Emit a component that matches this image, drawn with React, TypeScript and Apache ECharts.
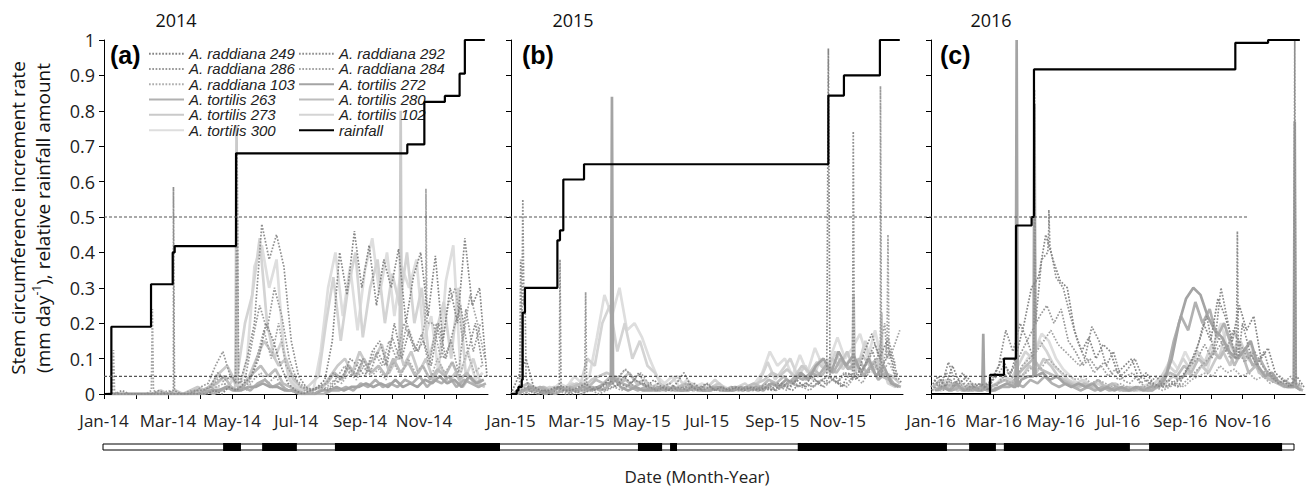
import React, { useEffect, useRef } from 'react';
import * as echarts from 'echarts';

// ---------- labels ----------
const years = ['2014', '2015', '2016'];
const yearShort = ['14', '15', '16'];
const panelLetters = ['(a)', '(b)', '(c)'];
const monthNames = ['Jan', 'Feb', 'Mar', 'Apr', 'May', 'Jun', 'Jul', 'Aug', 'Sep', 'Oct', 'Nov', 'Dec'];
const legendCol1 = ['A. raddiana 249', 'A. raddiana 286', 'A. raddiana 103', 'A. tortilis 263', 'A. tortilis 273', 'A. tortilis 300'];
const legendCol2 = ['A. raddiana 292', 'A. raddiana 284', 'A. tortilis 272', 'A. tortilis 280', 'A. tortilis 102', 'rainfall'];
const thresholds = [0.5, 0.05];

// ---------- weekly values (day = offset + 7*i) ----------
// 2014
const r249_2014 = [0,0,0,0,0,0,0,0,0,0, 0,0,0,0,0,.01,0,.02,.01,.03, .05,.1,.2,.15,.08,.03,.01,0,.01,.02, .04,.15,.4,.28,.46,.3,.42,.25,.38,.3, .41,.2,.33,.4,.22,.39,.15,.3,.2,.44, .25,.3,.05];
const r292_2014 = [0,0,.01,0,0,0,0,.01,0,.01, 0,0,.01,.01,.02,.06,.04,.05,.03,.1, .2,.48,.38,.45,.36,.15,.05,.02,.01,.02, .01,.03,.05,.1,.08,.05,.12,.15,.08,.2, .1,.18,.12,.15,.08,.2,.1,.18,.25,.12, .2,.08,.03];
const r286_2014 = [0,0,0,0,0,0,0,0,0,0, 0,0,0,.02,.03,.08,.12,.05,.03,.04, .15,.25,.18,.3,.22,.1,.04,.02,.01,.02, .03,.06,.04,.08,.05,.1,.06,.12,.08,.16, .1,.2,.12,.17,.08,.2,.1,.15,.06,.24, .12,.2,.04];
const r284_2014 = [0,0,0,0,0,0,.01,0,.01,0, 0,.01,0,.01,.02,.05,.02,.01,.02,.03, .1,.18,.1,.2,.08,.05,.02,.01,0,.01, .02,.05,.08,.05,.1,.06,.12,.08,.15,.1, .2,.15,.12,.3,.2,.1,.25,.3,.15,.28, .2,.1,.03];
const r103_2014 = [0,0,0,0,0,0,0,0,0,0, 0,0,.01,0,.01,.02,.03,.01,.02,.01, .04,.06,.03,.05,.02,.01,0,.01,0,.01, .02,.04,.03,.06,.04,.08,.05,.07,.04,.09, .05,.1,.06,.08,.04,.1,.06,.09,.05,.12, .06,.08,.02];
const t272_2014 = [0,0,0,0,0,0,0,0,0,0, 0,0,0,0,.01,.01,.02,.01,.01,.02, .02,.03,.02,.02,.01,.01,0,0,0,.01, .01,.02,.01,.02,.02,.03,.02,.03,.02,.04, .02,.03,.02,.04,.03,.05,.03,.04,.02,.05, .03,.04,.01];
const t263_2014 = [0,0,0,0,0,0,0,0,0,0, 0,0,0,.01,0,.01,.02,.01,.02,.01, .03,.04,.02,.03,.01,.01,0,0,0,0, .01,.01,.02,.01,.03,.02,.04,.02,.03,.02, .04,.03,.05,.02,.04,.03,.05,.02,.04,.03, .02,.03,.01];
const t280_2014 = [0,0,0,0,0,0,0,0,0,0, 0,0,.01,.01,.02,.03,.05,.02,.01,.03, .06,.08,.05,.07,.03,.02,.01,0,.01,.02, .03,.06,.04,.08,.05,.1,.06,.08,.05,.1, .06,.09,.05,.08,.04,.07,.05,.09,.04,.06, .03,.04,.01];
const t273_2014 = [0,0,0,0,0,0,0,.01,0,.01, 0,.01,.02,.01,.03,.06,.08,.04,.02,.05, .1,.15,.12,.08,.1,.04,.02,.01,0,.02, .05,.08,.1,.06,.12,.08,.1,.14,.06,.1, .08,.12,.06,.1,.04,.08,.03,.06,.02,.05, .03,.02,.01];
const t102_2014 = [0,0,0,0,0,0,0,0,0,0, 0,0,0,0,.01,.02,.01,.03,.06,.2, .28,.44,.2,.1,.15,.04,.02,.01,.03,.05, .2,.33,.15,.3,.4,.16,.3,.38,.2,.34, .25,.4,.2,.3,.1,.18,.26,.1,.3,.05, .1,.03,.01];
const t300_2014 = [0,0,0,0,0,0,0,0,0,0, 0,0,0,.01,.02,.03,.05,.04,.02,.1, .36,.42,.3,.38,.12,.03,.01,.02,.01,.12, .3,.4,.22,.36,.18,.35,.44,.28,.4,.22, .36,.3,.38,.15,.22,.06,.32,.42,.06,.12, .04,.06,.02];
// 2015
const r249_2015 = [0,.05,.1,.02,.01,.01,.02,.01,.01,.02, .03,.01,.02,.04,.02,.05,.03,.06,.02,.04, .02,.01,.03,.06,.02,.01,.03,.01,.02,.01, .02,.01,.02,.01,.02,.01,.03,.02,.04,.02, .05,.03,.05,.04,.02,.06,.04,.12,.17,.1, .15,.06,.03];
const r292_2015 = [0,.02,.01,0,.01,0,.01,.02,.01,0, .01,.02,.01,.02,.03,.02,.04,.03,.02,.01, .02,.01,.02,.01,.03,.01,.02,.01,.01,.02, .01,.02,.01,.02,.01,.03,.02,.01,.03,.02, .04,.02,.05,.03,.06,.04,.05,.1,.14,.08, .12,.05,.02];
const r286_2015 = [0,.01,.02,.01,0,.01,.02,.01,0,.01, .02,.01,.02,.03,.04,.07,.05,.03,.02,.01, .02,.03,.01,.02,.01,.02,.03,.01,.02,.01, .01,.02,.01,.02,.03,.01,.02,.04,.02,.03, .02,.04,.03,.05,.02,.04,.06,.08,.12,.1, .16,.08,.04];
const r284_2015 = [0,0,.01,0,.01,0,.01,0,.01,.02, .01,0,.01,.02,.01,.03,.02,.01,.02,.01, .01,.02,.01,.03,.01,.02,.01,.02,.01,.01, .02,.01,.01,.02,.01,.02,.01,.03,.02,.01, .03,.02,.04,.03,.02,.05,.03,.07,.1,.2, .12,.18,.05];
const r103_2015 = [0,.01,0,.01,0,0,.01,0,.01,0, .01,.02,.01,.03,.05,.07,.04,.06,.03,.02, .01,.02,.01,.03,.01,.02,.01,.02,.01,.01, .02,.01,.02,.01,.02,.01,.02,.03,.02,.03, .02,.04,.05,.03,.06,.04,.07,.05,.08,.06, .09,.04,.02];
const t272_2015 = [0,.01,.02,.01,0,.01,.02,.01,.01,.02, .01,.02,.03,.03,.02,.01,.02,.01,.01,.02, .01,.02,.01,.01,.02,.01,.01,.02,.01,.01, .02,.01,.02,.01,.03,.02,.04,.03,.06,.04, .08,.1,.06,.12,.08,.11,.06,.1,.05,.08, .03,.02,.01];
const t263_2015 = [0,.01,.01,.02,.01,0,.01,.02,.01,.01, .02,.01,.02,.04,.03,.02,.01,.02,.01,.01, .02,.01,.01,.02,.01,.01,.02,.01,.01,.02, .01,.02,.01,.02,.03,.02,.03,.05,.04,.06, .05,.08,.06,.1,.07,.09,.05,.08,.04,.06, .03,.02,.01];
const t280_2015 = [0,.02,.03,.01,.02,.01,.02,.01,.02,.03, .02,.04,.03,.05,.03,.04,.02,.03,.02,.01, .02,.01,.02,.03,.01,.02,.01,.02,.01,.02, .01,.02,.03,.02,.04,.03,.05,.03,.06,.04, .07,.05,.08,.06,.09,.07,.1,.06,.09,.05, .04,.02,.01];
const t273_2015 = [0,.01,.02,.01,.01,.02,.01,.02,.03,.02, .04,.05,.06,.05,.04,.06,.03,.04,.02,.03, .02,.01,.02,.03,.02,.01,.02,.03,.01,.02, .01,.02,.03,.04,.06,.05,.07,.05,.08,.06, .09,.07,.1,.08,.12,.09,.11,.08,.1,.06, .05,.03,.01];
const t102_2015 = [0,.01,.03,.02,.01,.02,.01,.02,.03,.02, .1,.08,.2,.25,.12,.2,.1,.15,.08,.06, .02,.03,.05,.02,.03,.01,.02,.04,.02,.01, .02,.03,.01,.04,.09,.04,.07,.1,.05,.08, .04,.1,.06,.12,.07,.1,.08,.15,.06,.1, .03,.02,.01];
const t300_2015 = [0,.01,.02,.01,.02,.01,.03,.02,.05,.03, .05,.16,.28,.22,.3,.18,.2,.16,.1,.05, .03,.05,.02,.04,.02,.03,.01,.03,.02,.01, .02,.01,.03,.06,.12,.08,.1,.05,.11,.06, .13,.08,.1,.16,.1,.13,.17,.1,.18,.08, .04,.06,.02];
// 2016
const r249_2016 = [.02,.05,.02,.08,.03,.05,.02,.03,.01,.06, .1,.05,.12,.2,.3,.33,.45,.38,.32,.3, .18,.12,.16,.1,.14,.12,.06,.08,.1,.04, .06,.03,.02,.04,.03,.05,.08,.12,.2,.15, .27,.22,.15,.25,.18,.22,.1,.13,.06,.04, .02,.05,.02];
const r292_2016 = [.04,.02,.09,.03,.06,.02,.03,.02,.04,.08, .18,.12,.2,.15,.28,.38,.47,.33,.3,.22, .15,.1,.19,.15,.08,.12,.05,.07,.1,.05, .03,.05,.02,.03,.02,.06,.1,.15,.22,.12, .3,.2,.1,.2,.12,.08,.12,.05,.03,.04, .02,.03,.01];
const r286_2016 = [.01,.03,.06,.02,.04,.01,.02,.01,.03,.05, .08,.06,.1,.14,.18,.22,.25,.2,.24,.15, .12,.08,.1,.07,.09,.06,.04,.05,.06,.03, .04,.02,.03,.02,.04,.05,.08,.1,.14,.1, .16,.12,.18,.14,.1,.12,.08,.06,.04,.03, .05,.02,.01];
const r284_2016 = [.03,.01,.04,.02,.03,.01,.02,.03,.01,.04, .06,.04,.08,.1,.12,.15,.18,.14,.12,.1, .08,.1,.06,.08,.05,.07,.04,.03,.05,.02, .03,.02,.02,.03,.02,.04,.06,.08,.1,.12, .15,.1,.13,.09,.11,.07,.06,.04,.05,.03, .02,.03,.01];
const r103_2016 = [.02,.01,.03,.01,.02,.01,.02,.01,.02,.03, .04,.03,.05,.06,.08,.07,.1,.08,.06,.05, .04,.05,.03,.04,.03,.02,.03,.02,.01,.02, .01,.02,.01,.02,.03,.02,.04,.05,.06,.05, .08,.06,.07,.05,.06,.04,.05,.03,.04,.02, .03,.02,.01];
const t272_2016 = [.01,.02,.01,.03,.01,.02,.01,.02,.01,.02, .03,.02,.04,.05,.08,.06,.04,.05,.03,.02, .03,.02,.03,.01,.02,.01,.02,.01,.02,.01, .02,.02,.04,.1,.2,.27,.3,.28,.22,.18, .16,.12,.1,.12,.15,.08,.05,.06,.03,.02, .02,.01,0];
const t263_2016 = [.01,.02,.01,.02,.01,.01,.02,.01,.01,.02, .02,.03,.02,.04,.03,.05,.03,.02,.03,.02, .01,.02,.01,.02,.01,.02,.01,.01,.02,.01, .01,.03,.06,.15,.22,.18,.26,.2,.24,.16, .2,.14,.1,.13,.08,.1,.06,.04,.03,.02, .02,.01,.01];
const t280_2016 = [.02,.04,.02,.03,.01,.02,.01,.03,.02,.03, .04,.03,.06,.08,.1,.07,.06,.05,.04,.03, .02,.03,.02,.04,.02,.03,.01,.02,.01,.02, .01,.02,.04,.06,.05,.08,.06,.1,.08,.12, .1,.14,.08,.12,.06,.08,.05,.04,.03,.02, .03,.02,.01];
const t273_2016 = [.01,.03,.02,.01,.02,.03,.01,.02,.01,.02, .03,.04,.05,.08,.06,.1,.08,.05,.04,.03, .02,.03,.02,.01,.02,.03,.01,.02,.01,.02, .01,.02,.03,.05,.04,.06,.05,.08,.06,.1, .12,.08,.15,.1,.12,.06,.05,.04,.03,.02, .03,.02,.01];
const t102_2016 = [.01,.02,.04,.02,.03,.01,.02,.01,.02,.03, .05,.04,.08,.12,.1,.15,.12,.08,.06,.04, .03,.04,.02,.03,.02,.01,.02,.01,.02,.01, .02,.03,.05,.08,.06,.1,.07,.12,.09,.14, .1,.18,.12,.15,.1,.08,.06,.05,.04,.03, .02,.03,.01];
const t300_2016 = [.02,.01,.03,.02,.01,.02,.01,.02,.01,.03, .04,.03,.06,.1,.12,.17,.15,.1,.07,.05, .03,.04,.02,.03,.02,.03,.01,.02,.01,.02, .03,.02,.06,.1,.07,.12,.08,.1,.06,.14, .2,.12,.18,.1,.15,.08,.05,.06,.03,.04, .02,.03,.01];

// ---------- single-day peaks [day, value] ----------
const r292_2014_peaks = [[65,.01],[66,.585],[67,.01],[125,.03],[126.5,.68],[128,.03]];
const r284_2014_peaks = [[8,0],[9,.124],[10,.01],[45,.01],[46,.24],[47,.01],[305,.2],[306,.58],[307,.2]];
const t273_2014_peaks = [[125,.02],[126,.76],[127,.02],[281,.1],[282,.8],[283,.1]];
const r249_2015_peaks = [[294,.05],[295.5,.976],[297,.05]];
const r292_2015_peaks = [[8,.02],[9,.38],[10,.15],[11,.55],[12,.25],[13,.3],[14,.05],[44.6,.02],[45.6,.38],[46.6,.02],[317.7,.05],[318.7,.742],[319.7,.05]];
const r286_2015_peaks = [[68.5,.01],[69.5,.288],[70.5,.01],[343,.05],[344,.87],[345,.05]];
const r284_2015_peaks = [[350,.1],[351,.45],[352,.1]];
const t272_2015_peaks = [[93,.03],[94,.84],[95,.05]];
const t273_2015_peaks = [[318,.08],[319,.28],[320,.06],[344,.05],[345,.23],[346,.05]];
const r292_2016_peaks = [[100,.1],[101,.86],[102,.2],[114,.4],[115,.52],[116,.42],[298,.1],[299,.46],[300,.1],[354,.05],[355,1],[356,.03]];
const t272_2016_peaks = [[50,.01],[51,.17],[52,.01],[82.6,.02],[83.6,1],[84.6,.02],[100,.05],[101,.82],[102,.05],[354,.02],[355,.77],[356,.02]];

// ---------- cumulative relative rainfall [day, value] ----------
const rain2014 = [[0,0],[7,.19],[44.7,.31],[65.3,.40],[67.2,.418],[125.5,.68],[288.3,.705],[304.5,.825],[324,.842],[338,.905],[343,1],[362,1]];
const rain2015 = [[0,0],[5.3,.01],[6.9,.02],[10,.04],[10.9,.23],[13,.30],[43.2,.434],[45.6,.462],[48.7,.606],[68,.649],[295.5,.843],[310,.90],[343.5,1],[362,1]];
const rain2016 = [[0,0],[57.6,.054],[71.2,.10],[83,.476],[98.2,.50],[100.5,.917],[297,.992],[329,1],[360,1]];

// ---------- bottom timeline black segments [startMonth, endMonth] (0 = Jan 2014) ----------
const barSegments = [[3.63,4.17],[4.81,5.86],[7.01,12.0],[16.17,16.9],[17.14,17.35],[21.0,25.51],[26.18,26.99],[27.23,31.04],[31.62,35.64]];

// ---------- species table ----------
type Sp = { name: string; offset: number; color: string; dotted: boolean; data: any[][]; peaks: any[][] };
const species: Sp[] = [
  { name: 'A. tortilis 300', offset: 3, color: '#dedede', dotted: false, data: [t300_2014, t300_2015, t300_2016], peaks: [[], [], []] },
  { name: 'A. tortilis 102', offset: 1, color: '#d4d4d4', dotted: false, data: [t102_2014, t102_2015, t102_2016], peaks: [[], [], []] },
  { name: 'A. tortilis 273', offset: 5, color: '#cacaca', dotted: false, data: [t273_2014, t273_2015, t273_2016], peaks: [t273_2014_peaks, t273_2015_peaks, []] },
  { name: 'A. tortilis 280', offset: 2, color: '#bdbdbd', dotted: false, data: [t280_2014, t280_2015, t280_2016], peaks: [[], [], []] },
  { name: 'A. tortilis 263', offset: 6, color: '#b1b1b1', dotted: false, data: [t263_2014, t263_2015, t263_2016], peaks: [[], [], []] },
  { name: 'A. tortilis 272', offset: 4, color: '#a4a4a4', dotted: false, data: [t272_2014, t272_2015, t272_2016], peaks: [[], t272_2015_peaks, t272_2016_peaks] },
  { name: 'A. raddiana 103', offset: 2, color: '#adadad', dotted: true, data: [r103_2014, r103_2015, r103_2016], peaks: [[], [], []] },
  { name: 'A. raddiana 284', offset: 5, color: '#a3a3a3', dotted: true, data: [r284_2014, r284_2015, r284_2016], peaks: [r284_2014_peaks, r284_2015_peaks, []] },
  { name: 'A. raddiana 286', offset: 1, color: '#999999', dotted: true, data: [r286_2014, r286_2015, r286_2016], peaks: [[], r286_2015_peaks, []] },
  { name: 'A. raddiana 292', offset: 3, color: '#8f8f8f', dotted: true, data: [r292_2014, r292_2015, r292_2016], peaks: [r292_2014_peaks, r292_2015_peaks, r292_2016_peaks] },
  { name: 'A. raddiana 249', offset: 0, color: '#858585', dotted: true, data: [r249_2014, r249_2015, r249_2016], peaks: [[], r249_2015_peaks, []] },
];
const rains = [rain2014, rain2015, rain2016];

const FONT = '"Open Sans", "DejaVu Sans", sans-serif';
const LEGEND_FONT = '"Liberation Sans", Arial, sans-serif';
const PANEL_LEFT = [104, 511, 931];
const PANEL_WIDTH = [384, 392, 374];
const TOP = 40;
const HEIGHT = 354;
const MONTH = 365 / 12;

function build(weekly: number[], offset: number, peaks: any[][]) {
  const pts = weekly.map((v, i) => [offset + 7 * i, v]).filter((p) => p[0] <= 364);
  return pts.concat(peaks).sort((a, b) => a[0] - b[0]);
}

function makeOption() {
  const grid: any[] = [];
  const xAxis: any[] = [];
  const yAxis: any[] = [];
  const series: any[] = [];
  for (let p = 0; p < 3; p++) {
    grid.push({ left: PANEL_LEFT[p], width: PANEL_WIDTH[p], top: TOP, height: HEIGHT, outerBoundsMode: 'none' });
    xAxis.push({
      type: 'value', gridIndex: p, min: 0, max: 365, interval: MONTH,
      axisLine: { show: true, lineStyle: { color: '#000', width: 1 } },
      axisTick: { show: true, length: 5, lineStyle: { color: '#000' } },
      splitLine: { show: false },
      axisLabel: {
        margin: 18, color: '#222', fontSize: 17, fontFamily: FONT,
        showMaxLabel: false,
        formatter: (v: number) => {
          const m = Math.round(v / MONTH);
          return m % 2 === 0 && m < 12 ? monthNames[m] + '-' + yearShort[p] : '';
        },
      },
    });
    yAxis.push({
      type: 'value', gridIndex: p, min: 0, max: 1, interval: 0.1,
      axisLine: { show: true, lineStyle: { color: '#000', width: 1 } },
      axisTick: { show: true, length: 5, lineStyle: { color: '#000' } },
      splitLine: { show: false },
      axisLabel: {
        show: p === 0, margin: 9, color: '#222', fontSize: 18, fontFamily: FONT,
        formatter: (v: number) => String(+v.toFixed(1)),
      },
    });
    species.forEach((s) => {
      series.push({
        type: 'line', name: s.name, xAxisIndex: p, yAxisIndex: p,
        data: build(s.data[p] as number[], s.offset, s.peaks[p]),
        symbol: 'none', silent: true, z: 2,
        itemStyle: { color: s.color },
        lineStyle: s.dotted
          ? { color: s.color, width: 1.7, type: [1.7, 1.6] }
          : { color: s.color, width: 2.7, type: 'solid' },
      });
    });
    series.push({
      type: 'line', name: 'rainfall', xAxisIndex: p, yAxisIndex: p,
      data: rains[p], step: 'end', symbol: 'none', silent: true, z: 4,
      itemStyle: { color: '#000' },
      lineStyle: { color: '#000', width: 2.2 },
    });
  }
  // threshold overlay grid (index 3)
  grid.push({ left: 104, width: 1144, top: TOP, height: HEIGHT, outerBoundsMode: 'none' });
  xAxis.push({ type: 'value', gridIndex: 3, min: 0, max: 1, show: false });
  yAxis.push({ type: 'value', gridIndex: 3, min: 0, max: 1, show: false });
  thresholds.forEach((t) => {
    series.push({
      type: 'line', xAxisIndex: 3, yAxisIndex: 3, data: [[0, t], [1, t]],
      symbol: 'none', silent: true, z: 5,
      lineStyle: { color: '#555', width: 1.2, type: [3, 2] },
    });
  });
  // bottom timeline (index 4)
  grid.push({ left: 103, width: 1191, top: 444, height: 6, show: true, borderColor: '#000', borderWidth: 1, backgroundColor: '#fff', outerBoundsMode: 'none' });
  xAxis.push({ type: 'value', gridIndex: 4, min: 0, max: 36, show: false });
  yAxis.push({ type: 'value', gridIndex: 4, min: 0, max: 1, show: false });
  series.push({
    type: 'custom', xAxisIndex: 4, yAxisIndex: 4, data: barSegments, silent: true, clip: false,
    encode: { x: [0, 1] },
    renderItem: (params: any, api: any) => {
      const a = api.coord([api.value(0), 0]);
      const b = api.coord([api.value(1), 1]);
      return { type: 'rect', shape: { x: a[0], y: b[1] - 1, width: b[0] - a[0], height: a[1] - b[1] + 2 }, style: { fill: '#000' } };
    },
  });

  const legendBase = {
    orient: 'vertical', top: 41, itemWidth: 35, itemHeight: 12, itemGap: 0,
    selectedMode: false,
    itemStyle: { opacity: 0 },
    textStyle: { fontStyle: 'italic', fontSize: 15, lineHeight: 15.3, color: '#222', fontFamily: LEGEND_FONT },
  };
  const graphic: any[] = [];
  const yearX = [176, 573, 991];
  years.forEach((y, i) => {
    graphic.push({ type: 'text', x: yearX[i], y: 20, style: { text: y, font: `18px ${FONT}`, fill: '#111', align: 'center', verticalAlign: 'middle', textAlign: 'center', textVerticalAlign: 'middle' } });
  });
  const letterX = [110, 522, 940];
  panelLetters.forEach((l, i) => {
    graphic.push({ type: 'text', x: letterX[i], y: 55, style: { text: l, font: `bold 25px "Liberation Sans", Arial, sans-serif`, fill: '#000', align: 'left', verticalAlign: 'middle', textAlign: 'left', textVerticalAlign: 'middle' } });
  });
  graphic.push({
    type: 'text', x: 30, y: 218, rotation: Math.PI / 2,
    style: {
      text: 'Stem circumference increment rate\n(mm day{s|-1}), relative rainfall amount',
      font: `19px ${FONT}`, fontSize: 19, fontFamily: FONT, fill: '#111', lineHeight: 25,
      align: 'center', verticalAlign: 'middle', textAlign: 'center', textVerticalAlign: 'middle',
      rich: { s: { fontSize: 12, fontFamily: FONT, fill: '#111', verticalAlign: 'top', lineHeight: 25, padding: [0, 0, 7, 0] } },
    },
  });
  graphic.push({ type: 'text', x: 697, y: 476, style: { text: 'Date (Month-Year)', font: `17px ${FONT}`, fill: '#222', align: 'center', verticalAlign: 'middle', textAlign: 'center', textVerticalAlign: 'middle' } });

  return {
    animation: false,
    backgroundColor: '#fff',
    grid, xAxis, yAxis, series, graphic,
    legend: [
      { ...legendBase, left: 143, data: legendCol1 },
      { ...legendBase, left: 293, data: legendCol2 },
    ],
  };
}

export default function App() {
  const ref = useRef<HTMLDivElement>(null);
  useEffect(() => {
    document.body.style.margin = '0';
    if (!ref.current) return;
    const chart = echarts.init(ref.current, undefined, { renderer: 'svg' });
    chart.setOption(makeOption() as any);
    return () => chart.dispose();
  }, []);
  return <div ref={ref} style={{ position: 'absolute', left: 0, top: 0, width: 1306, height: 490 }} />;
}
